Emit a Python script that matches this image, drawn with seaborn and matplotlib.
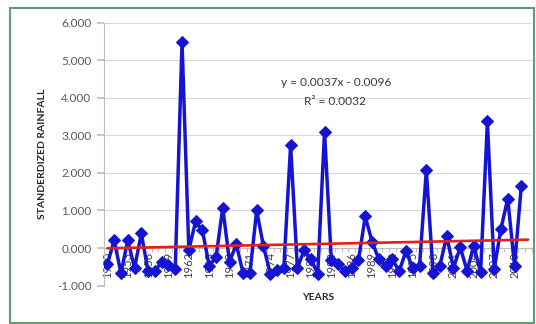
import numpy as np
import pandas as pd
import matplotlib
matplotlib.use("Agg")
import matplotlib.pyplot as plt
import seaborn as sns
from matplotlib.patches import Rectangle
from matplotlib.ticker import FixedLocator, FixedFormatter, FuncFormatter

# ---- data ----
years = list(range(1950, 2013))  # 63 categories (last one empty)
rainfall = [
    -0.43, 0.21, -0.67, 0.21, -0.53, 0.39, -0.62, -0.62, -0.36, -0.45,
    -0.56, 5.49, -0.05, 0.71, 0.47, -0.47, -0.25, 1.07, -0.36, 0.10,
    -0.67, -0.67, 1.00, 0.05, -0.68, -0.58, -0.53, 2.74, -0.53, -0.05,
    -0.30, -0.68, 3.10, -0.33, -0.42, -0.62, -0.53, -0.32, 0.84, 0.17,
    -0.30, -0.47, -0.30, -0.62, -0.08, -0.53, -0.47, 2.07, -0.67, -0.47,
    0.32, -0.53, 0.02, -0.60, 0.05, -0.65, 3.37, -0.56, 0.52, 1.31,
    -0.47, 1.66,
]
trend_slope = 0.0037
trend_intercept = -0.0096
equation_text = "y = 0.0037x - 0.0096"
r2_text = "R² = 0.0032"
x_title = "YEARS"
y_title = "STANDERDIZED RAINFALL"
y_ticks = [-1, 0, 1, 2, 3, 4, 5, 6]
label_step = 3

sns.set_theme(style="white")
plt.rcParams["font.family"] = ["Lato", "DejaVu Sans"]

fig = plt.figure(figsize=(5.36, 3.24), dpi=100)
ax = fig.add_axes([104 / 536, 1 - 285.6 / 324, 427.5 / 536, 262.9 / 324])

df = pd.DataFrame({"pos": np.arange(len(rainfall)), "value": rainfall})
trend_df = pd.DataFrame({"pos": np.arange(len(years))})
trend_df["value"] = trend_slope * (trend_df["pos"] + 1) + trend_intercept

sns.lineplot(data=df, x="pos", y="value", ax=ax, color="#1414d2", lw=2.5,
             marker="D", markersize=6.5, markeredgecolor="#1414d2", zorder=3)
sns.lineplot(data=trend_df, x="pos", y="value", ax=ax, color="#e3201b",
             lw=1.9, zorder=4)

ax.set_xlim(-0.5, len(years) - 0.5)
ax.set_ylim(-1, 6)
ax.set_yticks(y_ticks)
ax.yaxis.set_major_formatter(FuncFormatter(lambda v, p: f"{v:.3f}"))
ax.grid(axis="y", color="#d9d9d9", lw=0.8)
ax.grid(axis="x", visible=False)

label_pos = list(range(0, len(years), label_step))
ax.xaxis.set_major_locator(FixedLocator(label_pos))
ax.xaxis.set_major_formatter(FixedFormatter([str(years[i]) for i in label_pos]))
ax.xaxis.set_minor_locator(FixedLocator(np.arange(-0.5, len(years), 1.0)))
ax.tick_params(axis="x", which="major", length=0, pad=3, labelsize=8,
               labelcolor="#404040", labelrotation=90)
ax.tick_params(axis="x", which="minor", length=3, color="#bfbfbf",
               direction="out", width=0.8, bottom=True)
ax.tick_params(axis="y", length=5, color="#bfbfbf", direction="out",
               labelsize=8.5, labelcolor="#595959", pad=4, left=True)

for s in ["top", "right"]:
    ax.spines[s].set_visible(False)
ax.spines["bottom"].set_position(("data", 0))
ax.spines["bottom"].set_color("#bfbfbf")
ax.spines["left"].set_color("#bfbfbf")
ax.spines["left"].set_linewidth(0.8)
ax.spines["bottom"].set_linewidth(0.8)

ax.set_xlabel("")
ax.set_ylabel(y_title, fontsize=7.5, fontweight="bold", color="#262626")
ax.yaxis.set_label_coords(-0.134, 0.5)
fig.text(318 / 536, 1 - 298 / 324, x_title, fontsize=7.5, fontweight="bold",
         color="#262626", ha="center", va="center")

fig.text(336 / 536, 1 - 83 / 324, equation_text, fontsize=8.6,
         color="#3a3a3a", ha="center", va="center")
fig.text(335 / 536, 1 - 101 / 324, r2_text, fontsize=8.6,
         color="#3a3a3a", ha="center", va="center")

fig.add_artist(Rectangle((10 / 536, 1.5 / 324), 524 / 536, 315 / 324,
                         transform=fig.transFigure, fill=False,
                         ec="#5e9c7c", lw=1.5))

fig.savefig("out.png", dpi=100)
